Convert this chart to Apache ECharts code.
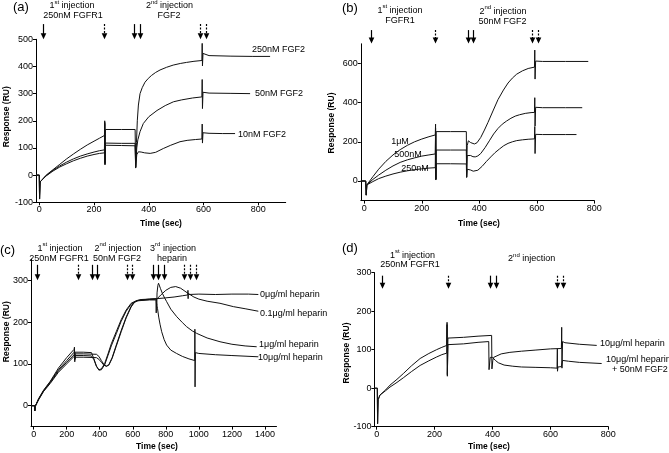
<!DOCTYPE html>
<html><head><meta charset="utf-8">
<script src="https://cdn.jsdelivr.net/npm/echarts@6/dist/echarts.min.js"></script>
<style>html,body{margin:0;padding:0;background:#fff}#c{width:669px;height:453px}</style>
</head><body><div id="c"></div>
<script>
// ---------- Panel (a): [time (s), response (RU)] ----------
const a250nM = [[-12,0],[0,0],[1,-88],[3,-25],[5,-18],[25,0],[50,20],[75,40],[100,60],[125,78],[150,95],[175,111],[200,125],[220,136],[238,146],[239,200],[240,40],[241.5,168],[300,168],[350,168],[352,30],[355,120],[358,200],[362,258],[368,300],[376,322],[386,342],[398,356],[410,367],[425,378],[441,387],[465,397],[489,405],[515,411],[538,415],[565,419],[594,422],[595,485],[596,402],[598,448],[605,444],[620,440],[700,438],[780,437],[843,437]];
const a50nM = [[-12,0],[0,0],[1,-88],[3,-25],[5,-18],[25,-2],[50,18],[75,34],[100,48],[125,60],[150,70],[175,78],[200,85],[220,90],[238,93],[239,195],[240,45],[241.5,118],[300,117],[350,117],[352,28],[356,100],[360,130],[368,160],[380,190],[400,215],[430,238],[460,256],[490,270],[520,277],[560,284],[594,288],[595,352],[596,245],[598,305],[620,302],[700,301],[770,300]];
const a10nM = [[-12,0],[0,0],[1,-88],[3,-25],[5,-18],[25,-3],[50,15],[75,30],[100,42],[125,53],[150,62],[175,70],[200,76],[220,80],[238,82],[239,190],[240,38],[241.5,110],[300,109],[350,108],[352,26],[356,75],[362,86],[372,85],[385,82],[405,80],[425,84],[453,98],[480,110],[514,123],[540,128],[570,131],[594,133],[595,188],[596,118],[598,156],[620,154],[670,153],[715,153]];
const aArrowSolid = [12, 346, 367];
const aArrowDashed = [235, 588, 609];

// ---------- Panel (b) ----------
const b1uM = [[-12,0],[5,0],[7,-72],[9,-20],[14,-12],[30,22],[50,60],[75,100],[100,133],[125,160],[150,182],[175,200],[200,214],[225,226],[247,235],[248,290],[249,5],[250,252],[300,252],[355,252],[356,20],[358,180],[362,205],[370,196],[383,189],[392,195],[405,222],[418,260],[430,298],[449,362],[465,415],[484,464],[500,500],[515,525],[530,545],[550,562],[570,574],[592,581],[593,668],[594,520],[596,612],[620,610],[700,610],[779,610]];
const b500nM = [[-12,0],[5,0],[7,-72],[9,-20],[14,-13],[30,8],[50,30],[75,55],[100,77],[125,95],[150,108],[175,118],[200,127],[225,133],[247,138],[248,270],[249,10],[250,158],[300,158],[355,158],[356,20],[358,130],[362,140],[370,130],[378,124],[386,123],[395,128],[405,140],[420,170],[435,205],[450,240],[465,268],[480,290],[495,306],[510,320],[525,331],[540,338],[560,345],[580,349],[592,350],[593,425],[594,280],[596,376],[620,374],[700,374],[758,374]];
const b250nM = [[-12,0],[5,0],[7,-72],[9,-20],[14,-14],[30,-3],[50,12],[75,25],[100,36],[125,45],[150,52],[175,58],[200,62],[225,66],[247,68],[248,250],[249,8],[250,88],[300,88],[355,87],[356,18],[358,60],[362,66],[370,56],[379,50],[395,55],[410,75],[425,100],[440,123],[455,145],[470,163],[485,180],[500,192],[515,200],[530,206],[550,210],[570,213],[592,215],[593,278],[594,140],[596,238],[620,237],[700,237],[738,237]];
const bArrowSolid = [22, 360, 377];
const bArrowDashed = [246, 585, 603];

// ---------- Panel (c) ----------
const c0ug = [[-16,0],[5,0],[7,-12],[9,-2],[30,17],[60,37],[100,58],[150,90],[200,115],[245,135],[247,140],[249,112],[251,128],[300,128],[350,127],[365,112],[380,95],[395,85],[410,86],[430,98],[450,120],[470,143],[500,172],[530,202],[560,226],[590,243],[620,250],[650,253],[700,255],[745,256],[800,258],[850,260],[900,263],[933,265],[934,276],[935,256],[936,266],[1000,267],[1100,266],[1200,267],[1300,267],[1360,266]];
const c01ug = [[-16,0],[5,0],[7,-12],[9,-2],[30,16],[60,36],[100,57],[150,86],[200,108],[245,128],[247,133],[249,112],[251,124],[300,124],[380,123],[395,118],[410,108],[425,99],[440,95],[455,98],[475,115],[500,145],[530,180],[560,212],[590,238],[610,248],[630,252],[700,254],[745,255],[770,265],[800,276],[830,283],[860,285],[890,281],[930,270],[970,260],[1000,255],[1050,250],[1128,245],[1209,237],[1280,232],[1360,226]];
const c1ug = [[-16,0],[5,0],[7,-12],[9,-2],[30,15],[60,35],[100,55],[150,83],[200,104],[245,122],[247,127],[249,110],[251,120],[300,120],[350,119],[365,110],[380,94],[395,86],[410,88],[430,101],[450,124],[470,148],[500,177],[530,206],[560,229],[590,245],[620,251],[650,254],[700,255],[744,256],[745,240],[747,270],[752,288],[756,293],[760,290],[768,280],[780,268],[790,260],[805,249],[830,231],[866,213],[900,199],[926,189],[960,179],[987,173],[1050,162],[1128,153],[1200,147],[1280,143],[1350,141]];
const c10ug = [[-16,0],[5,0],[7,-12],[9,-2],[30,14],[60,34],[100,53],[150,80],[200,100],[245,118],[247,123],[249,105],[251,116],[300,116],[380,115],[395,111],[410,104],[425,97],[440,94],[455,97],[475,113],[500,142],[530,177],[560,210],[590,236],[610,247],[630,251],[700,253],[740,253],[742,222],[744,245],[750,232],[757,212],[765,195],[775,177],[790,158],[805,145],[830,133],[865,125],[900,118],[940,112],[975,108],[976,183],[977,45],[979,127],[1000,125],[1100,122],[1200,120],[1360,117]];
const cArrowSolid = [18, 351, 381, 720, 754, 789];
const cArrowDashed = [266, 563, 597, 908, 946, 984];

// ---------- Panel (d) ----------
const dHeparin = [[-8,0],[2,0],[3,-92],[5,-30],[11,-18],[30,-5],[46,8],[70,23],[92,38],[120,58],[150,77],[180,90],[207,100],[225,106],[242,111],[243,171],[244,31],[246,130],[300,132],[350,135],[397,137],[398,50],[401,72],[404,80],[410,84],[430,89],[460,93],[500,96],[550,99],[600,102],[638,103],[639,158],[640,52],[642,121],[650,118],[700,114],[760,111]];
const dHeparinFGF2 = [[-8,0],[2,0],[3,-92],[5,-30],[11,-18],[30,-7],[46,3],[70,15],[92,27],[120,43],[150,59],[180,71],[207,81],[225,87],[242,91],[243,165],[244,35],[246,113],[300,115],[350,119],[387,121],[388,48],[392,80],[400,80],[410,72],[420,66],[440,60],[470,57],[500,55],[550,54],[600,53],[623,52],[624,102],[624.5,44],[626,55],[638,56],[642,72],[662,70],[700,67],[777,64]];
const dArrowSolid = [17, 391, 411];
const dArrowDashed = [245, 622, 643];

// ---------- tick labels ----------
const ticksX800 = [0, 200, 400, 600, 800];
const ticksXc = [0, 200, 400, 600, 800, 1000, 1200, 1400];
const ticksYa = [-100, 0, 100, 200, 300, 400, 500];
const ticksYb = [0, 200, 400, 600];
const ticksYc = [0, 100, 200, 300];
const ticksYd = [-100, 0, 100, 200, 300];

const FONT = '"Liberation Sans", Arial, Helvetica, sans-serif';
const chart = echarts.init(document.getElementById('c'));

function plain(v) { return String(v); }
function xAx(gi, min, max, ticks) {
  return {type: 'value', gridIndex: gi, min: min, max: max,
    axisLine: {show: true, onZero: false, lineStyle: {color: '#000', width: 1}},
    axisTick: {show: true, length: 3, customValues: ticks, lineStyle: {color: '#000'}},
    axisLabel: {customValues: ticks, formatter: plain, margin: 3, fontSize: 9, color: '#000', fontFamily: FONT},
    splitLine: {show: false}};
}
function yAx(gi, min, max, ticks) {
  return {type: 'value', gridIndex: gi, min: min, max: max,
    axisLine: {show: true, onZero: false, lineStyle: {color: '#000', width: 1}},
    axisTick: {show: true, length: 3, customValues: ticks, lineStyle: {color: '#000'}},
    axisLabel: {customValues: ticks, formatter: plain, margin: 3, fontSize: 9, color: '#000', fontFamily: FONT},
    splitLine: {show: false}};
}
function ser(gi, data) {
  return {type: 'line', xAxisIndex: gi, yAxisIndex: gi, data: data, showSymbol: false, symbol: 'none',
    lineStyle: {color: '#111', width: 1}, silent: true, clip: false, animation: false};
}

chart.setOption({
  animation: false,
  backgroundColor: '#fff',
  grid: [
    {left: 36, top: 39.3, width: 249.7, height: 163, outerBoundsMode: 'none'},
    {left: 360.8, top: 43.8, width: 233.5, height: 156.8, outerBoundsMode: 'none'},
    {left: 31, top: 259.4, width: 245.5, height: 167.2, outerBoundsMode: 'none'},
    {left: 374.4, top: 272.6, width: 233.9, height: 154.1, outerBoundsMode: 'none'}
  ],
  xAxis: [xAx(0, -12, 900, ticksX800), xAx(1, -12, 800, ticksX800), xAx(2, -16, 1470, ticksXc), xAx(3, -8, 800, ticksX800)],
  yAxis: [yAx(0, -100, 500, ticksYa), yAx(1, -100, 700, ticksYb), yAx(2, -50, 350, ticksYc), yAx(3, -100, 300, ticksYd)],
  series: [
    ser(0, a250nM), ser(0, a50nM), ser(0, a10nM),
    ser(1, b1uM), ser(1, b500nM), ser(1, b250nM),
    ser(2, c0ug), ser(2, c01ug), ser(2, c1ug), ser(2, c10ug),
    ser(3, dHeparin), ser(3, dHeparinFGF2)
  ]
});

// ---------- annotations ----------
const g = [];
function arrows(gi, times, vTop, vTip, dashed) {
  times.forEach(function (t) {
    const p1 = chart.convertToPixel({gridIndex: gi}, [t, vTop]);
    const p2 = chart.convertToPixel({gridIndex: gi}, [t, vTip]);
    const x = Math.round(p1[0]) + 0.5, hl = 6, hw = 2.8;
    g.push({type: 'line', silent: true, shape: {x1: x, y1: p1[1], x2: x, y2: p2[1] - hl + 1},
      style: {stroke: '#000', lineWidth: 1.2, lineDash: dashed ? [2, 1.5] : null}});
    g.push({type: 'polygon', silent: true, shape: {points: [[x - hw, p2[1] - hl], [x + hw, p2[1] - hl], [x, p2[1]]]},
      style: {fill: '#000'}});
  });
}
arrows(0, aArrowSolid, 556, 500, false); arrows(0, aArrowDashed, 556, 500, true);
arrows(1, bArrowSolid, 770, 702, false); arrows(1, bArrowDashed, 770, 702, true);
arrows(2, cArrowSolid, 337, 300, false); arrows(2, cArrowDashed, 337, 300, true);
arrows(3, dArrowSolid, 292, 258, false); arrows(3, dArrowDashed, 292, 258, true);

const rich = {
  n: {fontSize: 9, fontFamily: FONT, fill: '#000', lineHeight: 14},
  s: {fontSize: 6, fontFamily: FONT, fill: '#000', lineHeight: 6, verticalAlign: 'top'}
};
function txt(x, y, text, align, size, weight) {
  g.push({type: 'text', silent: true, x: x, y: y,
    style: {text: text, fontSize: size || 9, fontFamily: FONT, fontWeight: weight || 'normal', fill: '#000',
      align: align || 'center', verticalAlign: 'middle'}});
}
function sup(x, y, num, suf, rest) {
  g.push({type: 'text', silent: true, x: x, y: y,
    style: {text: '{n|' + num + '}{s|' + suf + '}{n|' + rest + '}', rich: rich, align: 'center', verticalAlign: 'middle'}});
}
function ytitle(x, y, text) {
  g.push({type: 'text', silent: true, x: x, y: y, rotation: Math.PI / 2,
    style: {text: text, fontSize: 8.5, fontFamily: FONT, fontWeight: 'bold', fill: '#000', align: 'center', verticalAlign: 'middle'}});
}

// panel letters
txt(13, 7, '(a)', 'left', 13); txt(342, 8.5, '(b)', 'left', 13);
txt(0, 250, '(c)', 'left', 13); txt(342, 248.3, '(d)', 'left', 13);
// (a)
sup(72, 6, '1', 'st', ' injection'); txt(73, 15.5, '250nM FGFR1');
sup(169.5, 6, '2', 'nd', ' injection'); txt(169, 15.5, 'FGF2');
txt(252, 50, '250nM FGF2', 'left'); txt(255, 94, '50nM FGF2', 'left'); txt(238, 134.3, '10nM FGF2', 'left');
// (b)
sup(400, 10.7, '1', 'st', ' injection'); txt(400, 20.7, 'FGFR1');
sup(503, 11.7, '2', 'nd', ' injection'); txt(502.5, 21.7, '50nM FGF2');
txt(400, 141.7, '1\u03bcM'); txt(408, 155, '500nM'); txt(415, 168.5, '250nM');
// (c)
sup(60, 248.7, '1', 'st', ' injection'); txt(59, 258.3, '250nM FGFR1');
sup(118, 248.7, '2', 'nd', ' injection'); txt(117, 258.3, '50nM FGF2');
sup(173, 248.7, '3', 'rd', ' injection'); txt(172, 258.3, 'heparin');
txt(260, 295, '0\u03bcg/ml heparin', 'left'); txt(260, 313.3, '0.1\u03bcg/ml heparin', 'left');
txt(259, 344.3, '1\u03bcg/ml heparin', 'left'); txt(258, 357.7, '10\u03bcg/ml heparin', 'left');
// (d)
sup(412.5, 255.7, '1', 'st', ' injection'); txt(410, 265, '250nM FGFR1');
sup(531.7, 259, '2', 'nd', ' injection');
txt(600, 343.3, '10\u03bcg/ml heparin', 'left');
txt(606, 360, '10\u03bcg/ml heparin', 'left'); txt(612, 370, '+ 50nM FGF2', 'left');
// axis titles
txt(161, 224, 'Time (sec)', 'center', 8.5, 'bold'); txt(479, 224, 'Time (sec)', 'center', 8.5, 'bold');
txt(157, 447, 'Time (sec)', 'center', 8.5, 'bold'); txt(489, 446.7, 'Time (sec)', 'center', 8.5, 'bold');
ytitle(6.5, 116.7, 'Response (RU)'); ytitle(331.7, 123, 'Response (RU)');
ytitle(6.7, 331.7, 'Response (RU)'); ytitle(346.7, 353, 'Response (RU)');

chart.setOption({graphic: {elements: g}});
</script></body></html>
